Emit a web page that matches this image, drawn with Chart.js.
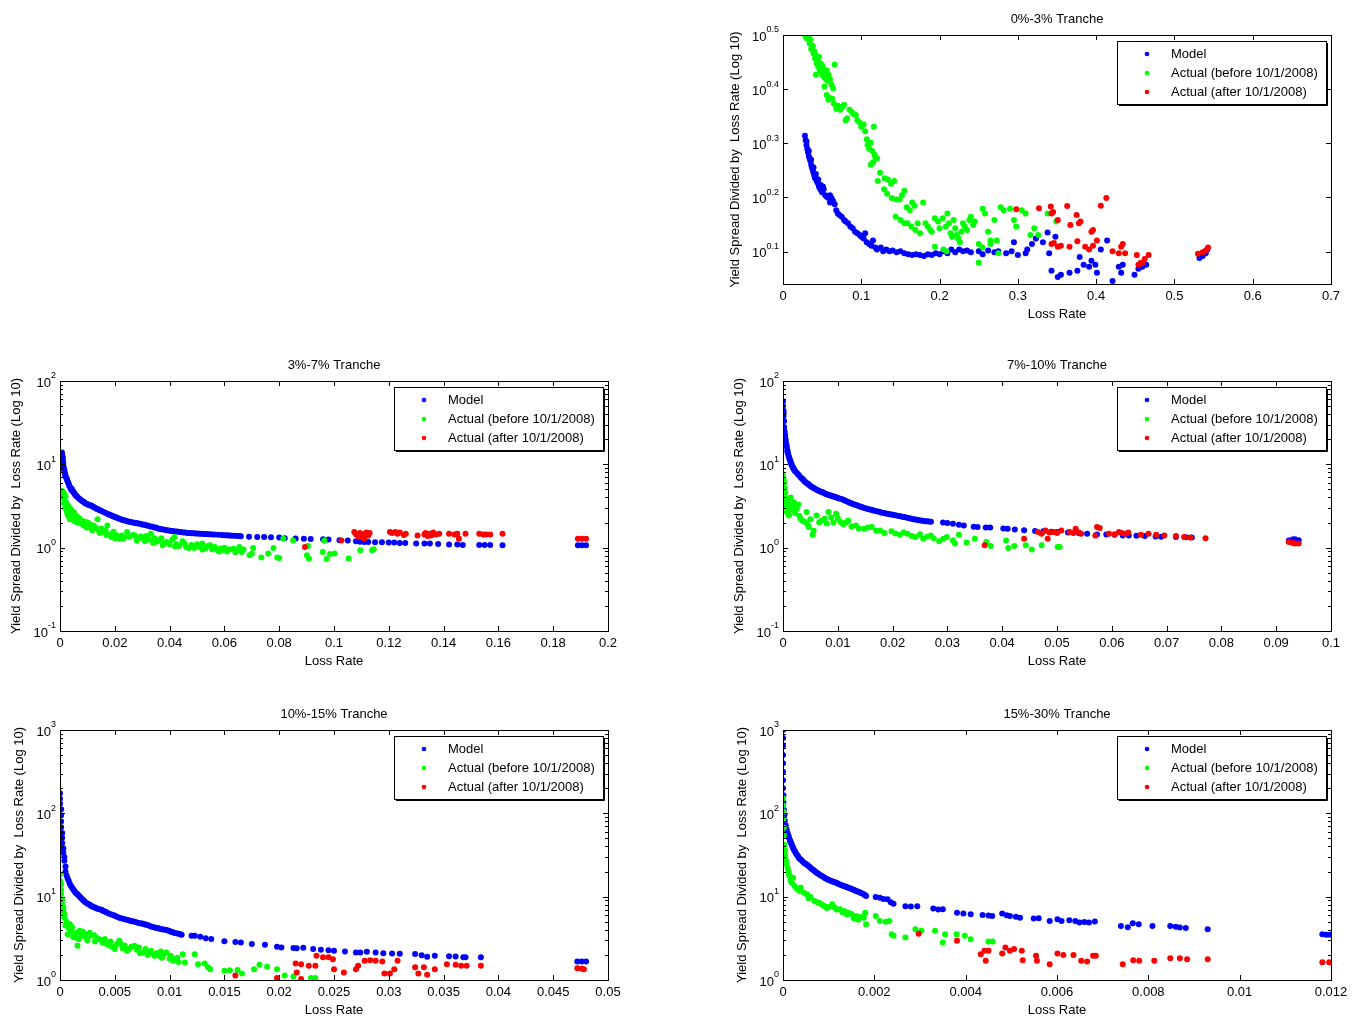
<!DOCTYPE html>
<html>
<head>
<meta charset="utf-8">
<title>Yield spread / loss rate by tranche</title>
<script src="https://cdn.jsdelivr.net/npm/chart.js@4.4.0/dist/chart.umd.min.js"></script>
<style>
  body { margin: 0; background: #fff; width: 1352px; height: 1017px; overflow: hidden; }
  .panel { position: absolute; }
</style>
</head>
<body>
<div class="panel" style="left:723px;top:5px"><canvas id="c03" width="628" height="325"></canvas></div>
<div class="panel" style="left:0px;top:351px"><canvas id="c37" width="628" height="326"></canvas></div>
<div class="panel" style="left:723px;top:351px"><canvas id="c710" width="628" height="326"></canvas></div>
<div class="panel" style="left:0px;top:700px"><canvas id="c1015" width="628" height="326"></canvas></div>
<div class="panel" style="left:723px;top:700px"><canvas id="c1530" width="628" height="326"></canvas></div>

<script>
// Yield spread divided by loss rate vs loss rate, five tranches

const seriesNames = ['Model', 'Actual (before 10/1/2008)', 'Actual (after 10/1/2008)'];
const yLabel = 'Yield Spread Divided by  Loss Rate (Log 10)';
const xLabel = 'Loss Rate';

// ---- 0%-3% tranche ----
const t03YExp = ['0.1', '0.2', '0.3', '0.4', '0.5'];
const t03Model = [
  [0.028,2.06],[0.029,2.02],[0.030,1.98],[0.031,1.95],[0.032,1.92],[0.033,1.89],[0.034,1.87],[0.035,1.85],
  [0.036,1.82],[0.037,1.80],[0.038,1.78],[0.039,1.76],[0.040,1.74],[0.041,1.72],[0.042,1.72],[0.043,1.70],
  [0.044,1.69],[0.045,1.68],[0.046,1.66],[0.047,1.65],[0.048,1.64],[0.049,1.63],[0.050,1.62],[0.052,1.64],
  [0.054,1.60],[0.056,1.59],[0.058,1.58],[0.060,1.60],[0.062,1.58],[0.064,1.56],[0.060,1.55],[0.066,1.54],
  [0.030,2.01],[0.033,1.93],[0.036,1.86],[0.039,1.80],[0.042,1.75],[0.045,1.71],[0.048,1.67],[0.051,1.66],
  [0.068,1.50],[0.070,1.48],[0.072,1.47],[0.075,1.46],[0.078,1.44],[0.080,1.43],[0.083,1.42],[0.086,1.40],
  [0.089,1.39],[0.092,1.37],[0.095,1.36],[0.098,1.35],[0.100,1.34],[0.103,1.33],[0.105,1.36],[0.107,1.31],
  [0.110,1.30],[0.113,1.29],[0.115,1.32],[0.118,1.28],[0.120,1.27],[0.125,1.28],[0.128,1.26],[0.132,1.27],
  [0.136,1.26],[0.140,1.265],[0.145,1.255],[0.150,1.26],[0.155,1.25],[0.160,1.245],[0.165,1.24],[0.170,1.245],
  [0.175,1.24],[0.180,1.235],[0.185,1.245],[0.190,1.24],[0.195,1.25],[0.200,1.245],[0.205,1.26],[0.210,1.25],
  [0.215,1.27],[0.220,1.255],[0.225,1.27],[0.230,1.26],[0.235,1.265],[0.240,1.255],[0.250,1.26],[0.255,1.245],
  [0.262,1.265],[0.270,1.255],[0.275,1.26],[0.285,1.25],[0.292,1.26],[0.295,1.31],[0.300,1.24],[0.310,1.25],
  [0.312,1.27],[0.318,1.30],[0.323,1.33],[0.332,1.31],[0.338,1.365],[0.340,1.25],[0.348,1.34],[0.343,1.16],
  [0.351,1.13],[0.355,1.14],[0.366,1.15],[0.376,1.16],[0.379,1.23],[0.384,1.19],[0.391,1.18],[0.394,1.21],
  [0.399,1.19],[0.401,1.15],[0.406,1.27],[0.414,1.32],[0.421,1.11],[0.429,1.18],[0.432,1.15],[0.434,1.19],
  [0.449,1.14],[0.454,1.17],[0.459,1.18],[0.464,1.19],[0.532,1.225],[0.536,1.235],[0.540,1.25],[0.542,1.27]
];
const t03Before = [
  [0.028,3.16],[0.030,3.12],[0.032,3.15],[0.034,3.05],[0.035,3.10],[0.036,2.98],[0.038,3.02],[0.039,2.92],
  [0.040,2.95],[0.041,2.86],[0.042,2.90],[0.043,2.80],[0.044,2.84],[0.045,2.76],[0.046,2.88],[0.047,2.72],
  [0.048,2.80],[0.049,2.70],[0.050,2.78],[0.051,2.66],[0.052,2.74],[0.053,2.64],[0.054,2.70],[0.055,2.62],
  [0.056,2.72],[0.057,2.60],[0.058,2.67],[0.060,2.62],[0.062,2.56],[0.064,2.52],[0.042,2.67],[0.066,2.79],
  [0.053,2.54],[0.056,2.45],[0.058,2.40],[0.060,2.42],[0.063,2.41],[0.065,2.36],[0.068,2.31],[0.070,2.34],
  [0.073,2.30],[0.076,2.33],[0.078,2.35],[0.080,2.20],[0.082,2.22],[0.085,2.30],[0.088,2.28],[0.090,2.26],
  [0.093,2.25],[0.095,2.20],[0.098,2.18],[0.100,2.14],[0.103,2.16],[0.105,2.10],[0.107,2.03],[0.108,1.98],
  [0.110,1.95],[0.112,2.00],[0.114,1.93],[0.116,2.14],[0.117,1.90],[0.118,1.88],[0.120,1.87],[0.115,1.84],
  [0.112,1.82],[0.121,1.70],[0.124,1.76],[0.130,1.72],[0.134,1.71],[0.138,1.68],[0.142,1.70],[0.129,1.64],
  [0.133,1.61],[0.139,1.58],[0.145,1.57],[0.149,1.57],[0.152,1.60],[0.155,1.63],[0.158,1.52],[0.162,1.50],
  [0.165,1.55],[0.168,1.53],[0.144,1.46],[0.150,1.44],[0.155,1.42],[0.159,1.42],[0.164,1.40],[0.169,1.38],
  [0.172,1.42],[0.175,1.36],[0.179,1.55],[0.182,1.42],[0.185,1.40],[0.188,1.38],[0.190,1.37],[0.194,1.45],
  [0.198,1.43],[0.200,1.39],[0.204,1.45],[0.208,1.40],[0.210,1.48],[0.212,1.42],[0.214,1.36],[0.216,1.34],
  [0.218,1.44],[0.220,1.39],[0.222,1.35],[0.224,1.33],[0.226,1.31],[0.228,1.37],[0.230,1.42],[0.232,1.40],
  [0.235,1.38],[0.238,1.44],[0.240,1.46],[0.243,1.41],[0.245,1.43],[0.250,1.30],[0.255,1.51],[0.258,1.48],
  [0.262,1.37],[0.265,1.32],[0.270,1.44],[0.273,1.32],[0.278,1.52],[0.282,1.50],[0.290,1.51],[0.295,1.44],
  [0.298,1.40],[0.305,1.50],[0.310,1.48],[0.316,1.35],[0.321,1.39],[0.326,1.35],[0.338,1.48],[0.349,1.43],
  [0.194,1.285],[0.209,1.26],[0.205,1.27],[0.250,1.20],[0.255,1.28],[0.275,1.25],[0.265,1.30]
];
const t03After = [
  [0.298,1.507],[0.327,1.514],[0.342,1.524],[0.343,1.48],[0.345,1.49],[0.363,1.528],[0.375,1.47],[0.378,1.42],
  [0.380,1.43],[0.367,1.41],[0.351,1.44],[0.406,1.53],[0.413,1.58],[0.394,1.37],[0.396,1.38],[0.401,1.32],
  [0.391,1.27],[0.386,1.285],[0.396,1.29],[0.346,1.305],[0.351,1.285],[0.355,1.29],[0.343,1.30],[0.366,1.285],
  [0.376,1.315],[0.421,1.26],[0.432,1.285],[0.434,1.30],[0.437,1.25],[0.429,1.25],[0.452,1.24],[0.454,1.19],
  [0.457,1.20],[0.459,1.20],[0.462,1.22],[0.467,1.24],[0.530,1.247],[0.536,1.255],[0.540,1.265],[0.543,1.28]
];

// ---- 3%-7% tranche ----
const t37YExp = ['-1', '0', '1', '2'];
const t37Model = [
  [0.0007,13.9],[0.0009,12.3],[0.0011,10.8],[0.0013,9.5],[0.0014,8.8],[0.0017,7.9],[0.0020,7.2],[0.0025,6.6],
  [0.0029,6.1],[0.0034,5.5],[0.0040,5.0],[0.0045,4.8],[0.0050,4.6],[0.0056,4.3],[0.0062,4.1],[0.0072,3.85],
  [0.0082,3.6],[0.0090,3.45],[0.0098,3.35],[0.0106,3.25],[0.0115,3.2],[0.0125,3.05],[0.0135,2.92],[0.0145,2.82],
  [0.0159,2.67],[0.0175,2.52],[0.0185,2.45],[0.0195,2.37],[0.0205,2.30],[0.0216,2.22],[0.0228,2.15],[0.0240,2.10],
  [0.0252,2.05],[0.0265,2.00],[0.0278,1.97],[0.0290,1.94],[0.0303,1.89],[0.0316,1.85],[0.0330,1.80],[0.0345,1.75],
  [0.0360,1.69],[0.0375,1.65],[0.0390,1.62],[0.0405,1.59],[0.0420,1.56],[0.0435,1.54],[0.0450,1.52],[0.0465,1.50],
  [0.0480,1.49],[0.0495,1.48],[0.0510,1.47],[0.0525,1.46],[0.0540,1.45],[0.0555,1.44],[0.0577,1.43],[0.0600,1.41],
  [0.0615,1.40],[0.0630,1.39],[0.0649,1.38],[0.0660,1.375],[0.0690,1.35],[0.0720,1.34],[0.0745,1.34],[0.0770,1.33],
  [0.0800,1.32],[0.0820,1.30],[0.0860,1.29],[0.0890,1.28],[0.0915,1.27],[0.0960,1.26],[0.0980,1.25],[0.1020,1.23],
  [0.1050,1.22],[0.1080,1.19],[0.1095,1.18],[0.1110,1.17],[0.1125,1.17],[0.1150,1.16],[0.1175,1.16],[0.1200,1.15],
  [0.1220,1.15],[0.1240,1.14],[0.1260,1.14],[0.1300,1.12],[0.1330,1.12],[0.1350,1.12],[0.1380,1.11],[0.1420,1.09],
  [0.1450,1.09],[0.1470,1.08],[0.1530,1.08],[0.1550,1.08],[0.1570,1.08],[0.1615,1.07],[0.1890,1.07],[0.1905,1.07],
  [0.1920,1.07],
  [0.0008,13.0],[0.0010,11.8],[0.0012,10.4],[0.0016,8.5],[0.0019,7.6],[0.0023,6.9],[0.0027,6.4],[0.0032,5.8],
  [0.0037,5.3],[0.0043,5.05],[0.0048,4.75],[0.0053,4.45],[0.0059,4.2],[0.0067,3.95],[0.0077,3.7],[0.0086,3.55],
  [0.0094,3.4],[0.0102,3.3],[0.0110,3.2],[0.0120,3.1],[0.0130,2.98],[0.0140,2.87],[0.0152,2.75],[0.0167,2.6],
  [0.0180,2.5],[0.0190,2.42],[0.0200,2.35],[0.0210,2.27],[0.0222,2.2],[0.0234,2.13],[0.0246,2.08],[0.0258,2.03],
  [0.0272,1.99],[0.0284,1.96],[0.0296,1.92],[0.0310,1.88],[0.0323,1.83],[0.0338,1.78],[0.0352,1.73],[0.0368,1.68],
  [0.0383,1.64],[0.0398,1.61],[0.0412,1.58],[0.0428,1.56],[0.0442,1.54],[0.0458,1.52],[0.0472,1.50],[0.0488,1.49],
  [0.0503,1.48],[0.0518,1.47],[0.0532,1.46],[0.0548,1.45],[0.0563,1.44],[0.0590,1.42],[0.0608,1.41],[0.0622,1.40],
  [0.0640,1.39],[0.0655,1.38]
];
const t37Before = [
  [0.0007,4.8],[0.0009,4.4],[0.0011,4.7],[0.0013,4.2],[0.0014,3.9],[0.0016,4.4],[0.0018,3.6],[0.0020,4.1],
  [0.0022,3.5],[0.0022,2.9],[0.0024,3.3],[0.0026,2.6],[0.0027,3.1],[0.0029,3.2],[0.0030,2.4],[0.0032,2.8],
  [0.0034,3.0],[0.0036,2.2],[0.0038,2.6],[0.0040,2.9],[0.0043,2.5],[0.0046,2.3],[0.0050,2.67],[0.0053,2.1],
  [0.0056,2.4],[0.0058,2.44],[0.0062,2.0],[0.0066,2.3],[0.0072,2.22],[0.0076,1.95],[0.0080,2.1],[0.0087,1.85],
  [0.0092,2.05],[0.0101,2.0],[0.0105,1.8],[0.0110,1.9],[0.0115,1.69],[0.0122,1.85],[0.0130,1.75],[0.0137,2.2],
  [0.0142,1.6],[0.0150,1.7],[0.0159,1.54],[0.0165,1.62],[0.0173,1.85],[0.0180,1.45],[0.0187,1.34],[0.0195,1.55],
  [0.0205,1.42],[0.0216,1.28],[0.0225,1.4],[0.0235,1.33],[0.0245,1.54],[0.0255,1.35],[0.0265,1.42],[0.0274,1.40],
  [0.0285,1.30],[0.0295,1.36],[0.0303,1.28],[0.0315,1.38],[0.0325,1.25],[0.0332,1.47],[0.0345,1.30],[0.0352,1.18],
  [0.0360,1.22],[0.0370,1.30],[0.0380,1.12],[0.0389,1.17],[0.0400,1.10],[0.0410,1.25],[0.0418,1.34],[0.0425,1.10],
  [0.0435,1.05],[0.0447,1.19],[0.0455,1.12],[0.0470,0.99],[0.0480,1.08],[0.0490,0.99],[0.0500,1.10],[0.0510,1.02],
  [0.0519,1.12],[0.0530,0.98],[0.0540,1.05],[0.0548,1.07],[0.0555,0.96],[0.0565,1.02],[0.0575,0.93],[0.0585,0.98],
  [0.0591,0.93],[0.0600,1.00],[0.0610,0.90],[0.0620,0.96],[0.0634,0.97],[0.0645,0.92],[0.0655,1.02],[0.0663,0.89],
  [0.0670,0.95],[0.0692,0.81],[0.0700,0.85],[0.0705,0.99],[0.0735,0.76],[0.0760,0.85],[0.0779,0.99],[0.0793,0.76],
  [0.0800,0.75],[0.0815,1.28],[0.0851,1.22],[0.0901,0.81],[0.0908,0.74],[0.0959,0.89],[0.0973,0.73],[0.0965,1.22],
  [0.1002,0.85],[0.1053,0.74],[0.1096,0.93],[0.1139,0.93],[0.1145,0.96],[0.0905,1.05],[0.0985,0.84],
  [0.0010,4.1],[0.0015,3.4],[0.0019,3.0],[0.0025,2.75],[0.0031,2.55],[0.0041,2.35],[0.0048,2.15],[0.0064,2.15],
  [0.0085,1.95],[0.0097,1.75],[0.0118,1.62],[0.0145,1.5],[0.0170,1.42],[0.0200,1.3],[0.0230,1.28],[0.0280,1.22],
  [0.0310,1.2],[0.0340,1.14],[0.0375,1.07],[0.0420,1.03],[0.0460,1.02],[0.0520,0.95],[0.0580,0.9],[0.0640,0.88]
];
const t37After = [
  [0.0894,1.02],[0.1027,1.22],[0.1074,1.54],[0.1080,1.45],[0.1090,1.34],[0.1095,1.50],[0.1100,1.35],[0.1104,1.45],
  [0.1110,1.28],[0.1118,1.52],[0.1125,1.40],[0.1130,1.50],[0.1204,1.54],[0.1212,1.50],[0.1224,1.54],[0.1232,1.47],
  [0.1240,1.52],[0.1255,1.42],[0.1262,1.47],[0.1305,1.40],[0.1330,1.44],[0.1334,1.50],[0.1342,1.38],[0.1350,1.47],
  [0.1355,1.40],[0.1362,1.52],[0.1372,1.44],[0.1384,1.47],[0.1420,1.47],[0.1440,1.44],[0.1450,1.47],[0.1456,1.28],
  [0.1480,1.47],[0.1530,1.47],[0.1545,1.44],[0.1555,1.44],[0.1570,1.44],[0.1615,1.47],[0.1890,1.28],[0.1905,1.28],
  [0.1920,1.28]
];

// ---- 7%-10% tranche ----
const t710YExp = ['-1', '0', '1', '2'];
const t710Model = [
  [0.0000,57],[0.0000,50],[0.0001,44],[0.0001,38],[0.0002,33],[0.0002,28],[0.0003,25],[0.0004,22],
  [0.0005,19.5],[0.0006,17.5],[0.0007,16.2],[0.0008,14.8],[0.0009,13.6],[0.0010,12.8],[0.0012,11.7],[0.0014,10.6],
  [0.0016,9.8],[0.0018,9.2],[0.0020,8.7],[0.0022,8.3],[0.0025,7.9],[0.0029,7.4],[0.0032,7.0],[0.0036,6.6],
  [0.0040,6.2],[0.0044,5.9],[0.0048,5.65],[0.0052,5.4],[0.0056,5.2],[0.0061,5.0],[0.0066,4.8],[0.0071,4.65],
  [0.0076,4.5],[0.0081,4.35],[0.0086,4.25],[0.0090,4.15],[0.0095,4.05],[0.0100,3.95],[0.0106,3.85],[0.0112,3.7],
  [0.0118,3.55],[0.0124,3.42],[0.0130,3.3],[0.0136,3.2],[0.0142,3.1],[0.0148,3.0],[0.0155,2.92],[0.0162,2.85],
  [0.0169,2.75],[0.0177,2.67],[0.0184,2.6],[0.0191,2.55],[0.0198,2.5],[0.0205,2.45],[0.0212,2.4],[0.0220,2.34],
  [0.0227,2.28],[0.0234,2.22],[0.0241,2.18],[0.0248,2.14],[0.0255,2.1],[0.0263,2.07],[0.0270,2.05],[0.0292,2.0],
  [0.0300,1.98],[0.0310,1.94],[0.0321,1.89],[0.0330,1.85],[0.0348,1.78],[0.0355,1.77],[0.0370,1.74],[0.0378,1.74],
  [0.0402,1.70],[0.0410,1.69],[0.0423,1.65],[0.0440,1.62],[0.0460,1.58],[0.0475,1.57],[0.0490,1.55],[0.0500,1.54],
  [0.0520,1.52],[0.0540,1.49],[0.0555,1.47],[0.0573,1.44],[0.0590,1.44],[0.0605,1.43],[0.0620,1.40],[0.0631,1.40],
  [0.0645,1.39],[0.0660,1.38],[0.0680,1.36],[0.0690,1.35],[0.0717,1.34],[0.0735,1.33],[0.0746,1.32],[0.0923,1.22],
  [0.0930,1.25],[0.0934,1.26],[0.0941,1.23],
  [0.0001,41],[0.0003,23.5],[0.0004,20.5],[0.0006,16.8],[0.0008,14.2],[0.0011,12.2],[0.0013,11.1],[0.0015,10.2],
  [0.0017,9.5],[0.0019,8.9],[0.0021,8.5],[0.0027,7.6],[0.0034,6.8],[0.0038,6.4],[0.0042,6.05],[0.0046,5.8],
  [0.0050,5.5],[0.0054,5.3],[0.0058,5.1],[0.0063,4.9],[0.0068,4.72],[0.0073,4.58],[0.0078,4.42],[0.0083,4.3],
  [0.0088,4.2],[0.0093,4.1],[0.0098,4.0],[0.0103,3.9],[0.0109,3.78],[0.0115,3.62],[0.0121,3.48],[0.0127,3.36],
  [0.0133,3.25],[0.0139,3.15],[0.0145,3.05],[0.0152,2.96],[0.0158,2.88],[0.0165,2.8],[0.0173,2.71],[0.0180,2.63],
  [0.0188,2.57],[0.0195,2.52],[0.0202,2.47],[0.0209,2.42],[0.0216,2.37],[0.0223,2.31],[0.0231,2.25],[0.0238,2.2],
  [0.0245,2.16],[0.0252,2.12],[0.0259,2.08],[0.0266,2.06]
];
const t710Before = [
  [0.0000,7.3],[0.0001,6.6],[0.0002,6.1],[0.0003,5.2],[0.0004,4.6],[0.0004,3.9],[0.0005,3.2],[0.0006,3.6],
  [0.0007,2.67],[0.0008,3.0],[0.0009,3.85],[0.0010,2.5],[0.0011,2.44],[0.0012,3.4],[0.0014,4.0],[0.0016,2.9],
  [0.0018,3.2],[0.0020,3.5],[0.0022,2.6],[0.0025,2.93],[0.0028,3.3],[0.0030,2.4],[0.0032,2.22],[0.0036,2.1],
  [0.0040,2.03],[0.0043,2.67],[0.0045,1.9],[0.0047,1.77],[0.0050,2.2],[0.0054,1.43],[0.0056,1.6],[0.0061,2.44],
  [0.0066,2.0],[0.0070,2.1],[0.0076,2.22],[0.0080,1.95],[0.0083,2.67],[0.0088,2.3],[0.0092,2.0],[0.0097,2.55],
  [0.0100,2.25],[0.0105,2.03],[0.0110,1.9],[0.0115,2.0],[0.0119,2.12],[0.0125,1.8],[0.0133,1.85],[0.0138,1.7],
  [0.0148,1.69],[0.0155,1.75],[0.0162,1.77],[0.0170,1.6],[0.0177,1.61],[0.0185,1.5],[0.0198,1.57],[0.0205,1.48],
  [0.0213,1.43],[0.0220,1.52],[0.0227,1.47],[0.0235,1.38],[0.0242,1.34],[0.0250,1.45],[0.0256,1.28],[0.0263,1.35],
  [0.0270,1.40],[0.0275,1.30],[0.0285,1.19],[0.0292,1.27],[0.0299,1.34],[0.0310,1.22],[0.0314,1.12],[0.0321,1.43],
  [0.0335,1.15],[0.0350,1.28],[0.0371,1.17],[0.0379,1.05],[0.0407,1.22],[0.0411,0.99],[0.0422,1.05],[0.0443,1.07],
  [0.0454,0.95],[0.0472,1.07],[0.0501,1.02],[0.0505,1.02]
];
const t710After = [
  [0.0368,1.07],[0.0440,1.28],[0.0465,1.54],[0.0472,1.47],[0.0479,1.61],[0.0483,1.28],[0.0486,1.52],[0.0494,1.54],
  [0.0500,1.50],[0.0508,1.61],[0.0523,1.54],[0.0530,1.50],[0.0534,1.69],[0.0540,1.52],[0.0544,1.47],[0.0570,1.40],
  [0.0573,1.77],[0.0578,1.72],[0.0595,1.47],[0.0605,1.45],[0.0613,1.54],[0.0618,1.50],[0.0624,1.47],[0.0630,1.52],
  [0.0653,1.43],[0.0667,1.47],[0.0681,1.43],[0.0696,1.40],[0.0717,1.38],[0.0732,1.34],[0.0743,1.32],[0.0771,1.30],
  [0.0923,1.17],[0.0930,1.14],[0.0934,1.12],[0.0941,1.12]
];

// ---- 10%-15% tranche ----
const t1015YExp = ['0', '1', '2', '3'];
const t1015Model = [
  [0.0000,174],[0.0000,150],[0.0000,130],[0.0001,112],[0.0001,95],[0.0001,80],[0.0001,68],[0.0002,58],
  [0.0002,51],[0.0002,44],[0.0003,38],[0.0003,34],[0.0004,30],[0.0004,27],[0.0005,23],[0.0005,20],
  [0.0006,18],[0.0007,16.5],[0.0008,15.4],[0.0009,14.2],[0.0010,13.4],[0.0011,12.8],[0.0013,11.8],[0.0014,11.2],
  [0.0016,10.7],[0.0018,10.0],[0.0020,9.4],[0.0022,8.9],[0.0025,8.3],[0.0027,8.0],[0.0029,7.7],[0.0032,7.4],
  [0.0035,7.1],[0.0038,6.9],[0.0040,6.7],[0.0043,6.4],[0.0047,6.1],[0.0050,5.9],[0.0054,5.6],[0.0058,5.4],
  [0.0062,5.25],[0.0065,5.1],[0.0069,4.95],[0.0073,4.8],[0.0076,4.7],[0.0079,4.6],[0.0083,4.4],[0.0087,4.25],
  [0.0090,4.15],[0.0094,4.05],[0.0098,3.95],[0.0101,3.8],[0.0104,3.7],[0.0108,3.6],[0.0111,3.5],[0.0120,3.4],
  [0.0123,3.39],[0.0128,3.3],[0.0133,3.18],[0.0138,3.1],[0.0150,2.92],[0.0160,2.85],[0.0165,2.82],[0.0175,2.7],
  [0.0187,2.64],[0.0198,2.5],[0.0202,2.46],[0.0213,2.42],[0.0216,2.41],[0.0222,2.44],[0.0231,2.35],[0.0238,2.30],
  [0.0245,2.28],[0.0250,2.25],[0.0260,2.2],[0.0270,2.14],[0.0274,2.14],[0.0280,2.18],[0.0288,2.14],[0.0295,2.1],
  [0.0303,2.08],[0.0310,2.06],[0.0324,2.05],[0.0330,1.98],[0.0335,1.90],[0.0342,1.95],[0.0355,1.93],[0.0361,1.92],
  [0.0368,1.88],[0.0370,1.87],[0.0384,1.87],[0.0472,1.67],[0.0476,1.67],[0.0480,1.67],
  [0.0012,12.3],[0.0015,10.9],[0.0017,10.3],[0.0019,9.7],[0.0021,9.1],[0.0023,8.6],[0.0026,8.1],[0.0028,7.85],
  [0.0030,7.55],[0.0033,7.25],[0.0037,7.0],[0.0039,6.8],[0.0042,6.55],[0.0045,6.25],[0.0049,6.0],[0.0052,5.75],
  [0.0056,5.5],[0.0060,5.32],[0.0064,5.15],[0.0067,5.02],[0.0071,4.88],[0.0075,4.75],[0.0078,4.65],[0.0081,4.5],
  [0.0085,4.33],[0.0089,4.2],[0.0092,4.1],[0.0096,4.0],[0.0100,3.87],[0.0103,3.75],[0.0106,3.65],[0.0110,3.55]
];
const t1015Before = [
  [0.0000,18.5],[0.0000,15.5],[0.0001,14],[0.0001,12],[0.0001,10.7],[0.0002,9.2],[0.0002,8.1],[0.0003,7.4],
  [0.0003,6.7],[0.0004,5.6],[0.0004,6.1],[0.0005,4.5],[0.0006,5.0],[0.0007,3.55],[0.0008,4.2],[0.0009,4.67],
  [0.0010,3.9],[0.0012,3.3],[0.0013,3.24],[0.0015,3.7],[0.0016,2.57],[0.0018,3.89],[0.0020,3.4],[0.0023,3.55],
  [0.0025,3.0],[0.0027,3.7],[0.0029,3.39],[0.0032,2.9],[0.0034,3.2],[0.0036,3.09],[0.0039,2.8],[0.0041,3.1],
  [0.0043,2.69],[0.0046,2.9],[0.0048,2.5],[0.0050,2.35],[0.0052,2.7],[0.0054,2.95],[0.0057,2.4],[0.0059,2.6],
  [0.0061,2.24],[0.0065,2.5],[0.0068,2.57],[0.0070,2.3],[0.0073,2.1],[0.0076,2.14],[0.0078,2.35],[0.0080,2.0],
  [0.0083,2.24],[0.0086,1.95],[0.0088,2.1],[0.0090,1.95],[0.0093,1.85],[0.0095,2.05],[0.0097,2.14],[0.0100,1.8],
  [0.0103,1.7],[0.0105,1.78],[0.0108,1.65],[0.0112,2.04],[0.0114,1.62],[0.0123,2.04],[0.0126,1.55],[0.0132,1.58],
  [0.0135,1.42],[0.0137,1.35],[0.0150,1.29],[0.0155,1.31],[0.0162,1.32],[0.0166,1.2],[0.0177,1.35],[0.0182,1.52],
  [0.0189,1.44],[0.0198,1.35],[0.0205,1.13],[0.0213,1.1],[0.0229,1.06],[0.0233,1.06],
  [0.0011,4.3],[0.0014,3.5],[0.0017,3.1],[0.0021,3.8],[0.0024,3.2],[0.0031,3.45],[0.0038,3.0],[0.0045,2.6],
  [0.0055,2.75],[0.0063,2.35],[0.0072,2.45],[0.0082,2.1],[0.0092,2.2],[0.0101,1.95],[0.0107,1.85]
];
const t1015After = [
  [0.0160,1.13],[0.0198,1.06],[0.0215,1.58],[0.0216,1.23],[0.0220,1.55],[0.0220,1.03],[0.0227,1.48],[0.0233,1.48],
  [0.0234,1.95],[0.0240,1.87],[0.0245,1.87],[0.0249,1.78],[0.0250,1.35],[0.0259,1.23],[0.0270,1.35],[0.0272,1.48],
  [0.0278,1.70],[0.0283,1.73],[0.0288,1.70],[0.0294,1.67],[0.0296,1.20],[0.0301,1.20],[0.0305,1.35],[0.0308,1.70],
  [0.0324,1.42],[0.0327,1.20],[0.0332,1.42],[0.0335,1.16],[0.0342,1.35],[0.0353,1.55],[0.0361,1.52],[0.0366,1.48],
  [0.0371,1.48],[0.0384,1.48],[0.0472,1.38],[0.0476,1.36],[0.0478,1.35]
];

// ---- 15%-30% tranche ----
const t1530YExp = ['0', '1', '2', '3'];
const t1530Model = [
  [0.0000,1000],[0.0000,800],[0.0000,650],[0.0000,500],[0.0000,400],[0.0000,316],[0.0000,250],[0.0000,200],
  [0.00001,165],[0.00001,135],[0.00002,110],[0.00003,95],[0.00004,82],[0.00006,72],[0.00008,64],[0.00010,58],
  [0.00013,51],[0.00016,46],[0.00019,42],[0.00022,38.5],[0.00026,35],[0.00030,32],[0.00035,29],[0.00040,27.5],
  [0.00046,25.5],[0.00052,24.3],[0.00058,22.8],[0.00064,21.3],[0.00069,20.3],[0.00075,19.2],[0.00081,18.2],[0.00087,17.4],
  [0.00091,16.9],[0.00097,16.2],[0.00103,15.6],[0.00110,15.1],[0.00117,14.7],[0.00123,14.1],[0.00130,13.6],[0.00137,13.2],
  [0.00143,12.8],[0.00150,12.4],[0.00156,12.0],[0.00162,11.6],[0.00169,11.2],[0.00176,10.8],[0.00182,10.2],[0.00203,9.9],
  [0.00212,9.7],[0.00220,9.4],[0.00229,9.3],[0.00236,8.6],[0.00242,8.2],[0.00268,7.7],[0.00280,7.6],[0.00294,7.7],
  [0.00329,7.2],[0.00340,7.0],[0.00350,7.06],[0.00381,6.4],[0.00395,6.3],[0.00411,6.15],[0.00437,6.04],[0.00450,5.95],
  [0.00458,5.87],[0.00480,6.27],[0.00490,6.0],[0.00497,5.87],[0.00510,5.75],[0.00519,5.6],[0.00549,5.46],[0.00560,5.5],
  [0.00584,5.12],[0.00601,5.36],[0.00610,5.1],[0.00627,5.21],[0.00640,5.1],[0.00649,4.89],[0.00660,4.95],[0.00670,4.89],
  [0.00683,5.02],[0.00740,4.46],[0.00755,4.3],[0.00766,4.8],[0.00779,4.67],[0.00809,4.46],[0.00848,4.46],[0.00860,4.35],
  [0.00869,4.26],[0.00882,4.2],[0.00930,4.07],[0.01181,3.55],[0.01190,3.5],[0.01198,3.5],
  [0.00012,54],[0.00015,48],[0.00018,44],[0.00021,40],[0.00024,36.5],[0.00028,33.5],[0.00033,30.5],[0.00038,28.2],
  [0.00043,26.5],[0.00049,24.9],[0.00055,23.5],[0.00061,22],[0.00067,20.8],[0.00072,19.7],[0.00078,18.7],[0.00084,17.8],
  [0.00094,16.5],[0.00100,15.9],[0.00107,15.3],[0.00113,14.9],[0.00120,14.4],[0.00127,13.8],[0.00133,13.4],[0.00140,13.0],
  [0.00147,12.6],[0.00153,12.2],[0.00159,11.8],[0.00166,11.4],[0.00172,11.0],[0.00179,10.5]
];
const t1530Before = [
  [0.0000,152],[0.0000,125],[0.00001,105],[0.00001,85],[0.00002,67],[0.00002,55],[0.00003,42],[0.00004,36],
  [0.00004,32],[0.00007,26.8],[0.00010,22.2],[0.00013,18.5],[0.00017,15.4],[0.00022,16.9],[0.00026,13.3],[0.00035,11.8],
  [0.00039,12.8],[0.00052,10.7],[0.00060,10.0],[0.00069,8.9],[0.00080,8.4],[0.00091,7.7],[0.00100,7.5],[0.00108,8.1],
  [0.00117,7.0],[0.00125,7.06],[0.00135,6.7],[0.00143,6.4],[0.00150,6.2],[0.00160,5.87],[0.00170,5.7],[0.00177,5.6],
  [0.00182,4.67],[0.00180,6.4],[0.00203,5.87],[0.00212,5.12],[0.00225,5.0],[0.00233,5.12],[0.00238,3.55],[0.00242,3.39],
  [0.00268,3.24],[0.00290,4.07],[0.00303,3.89],[0.00333,3.89],[0.00350,2.82],[0.00355,3.55],[0.00380,3.55],[0.00398,3.39],
  [0.00411,3.09],[0.00450,2.90],[0.00459,2.90],
  [0.00005,30],[0.00008,24.5],[0.00012,20],[0.00015,17.5],[0.00020,14.5],[0.00030,12.5],[0.00045,11.2],[0.00056,9.6],
  [0.00075,8.6],[0.00086,8.0],[0.00096,7.3],[0.00113,7.4],[0.00130,6.5],[0.00140,6.1],[0.00155,5.5],[0.00165,5.3]
];
const t1530After = [
  [0.00297,3.6],[0.00381,2.95],[0.00433,2.04],[0.00441,2.24],[0.00450,2.24],[0.00444,1.70],[0.00480,2.08],[0.00487,2.46],
  [0.00497,2.24],[0.00506,2.35],[0.00523,2.24],[0.00525,1.73],[0.00554,1.95],[0.00556,1.70],[0.00584,1.55],[0.00601,2.08],
  [0.00614,2.00],[0.00636,2.00],[0.00653,1.70],[0.00666,1.67],[0.00679,1.95],[0.00685,1.95],[0.00744,1.55],[0.00767,1.73],
  [0.00780,1.70],[0.00813,1.70],[0.00848,1.83],[0.00869,1.83],[0.00885,1.78],[0.00930,1.78],[0.01181,1.63],[0.01196,1.63]
];

const COLORS = ['#0000ff', '#00ff00', '#ff0000'];
const FONT = "'Liberation Sans', Arial, Helvetica, sans-serif";

Chart.defaults.font.family = FONT;
Chart.defaults.font.size = 13;
Chart.defaults.color = '#000';

// MATLAB-like box, inward ticks, 10^x tick labels, title and boxed legend
const matlabFrame = {
  id: 'matlabFrame',
  afterDraw(chart, args, opts) {
    const ctx = chart.ctx;
    const a = chart.chartArea;
    const xs = chart.scales.x, ys = chart.scales.y;
    ctx.save();
    ctx.strokeStyle = '#000';
    ctx.lineWidth = 1;

    // x ticks, bottom and top
    ctx.beginPath();
    xs.ticks.forEach(t => {
      const px = Math.round(xs.getPixelForValue(t.value)) + 0.5;
      ctx.moveTo(px, a.bottom); ctx.lineTo(px, a.bottom - 5);
      ctx.moveTo(px, a.top); ctx.lineTo(px, a.top + 5);
    });
    // y major ticks
    opts.exps.forEach(e => {
      const py = Math.round(ys.getPixelForValue(Math.pow(10, parseFloat(e)))) + 0.5;
      ctx.moveTo(a.left, py); ctx.lineTo(a.left + 5, py);
      ctx.moveTo(a.right, py); ctx.lineTo(a.right - 5, py);
    });
    // y minor ticks inside each decade
    if (opts.minor) {
      const d0 = Math.floor(Math.log10(ys.min)), d1 = Math.ceil(Math.log10(ys.max));
      for (let d = d0; d < d1; d++) {
        for (let k = 2; k <= 9; k++) {
          const v = k * Math.pow(10, d);
          if (v <= ys.min || v >= ys.max) continue;
          const py = Math.round(ys.getPixelForValue(v)) + 0.5;
          ctx.moveTo(a.left, py); ctx.lineTo(a.left + 3, py);
          ctx.moveTo(a.right, py); ctx.lineTo(a.right - 3, py);
        }
      }
    }
    ctx.stroke();
    ctx.strokeRect(Math.round(a.left) + 0.5, Math.round(a.top) + 0.5,
                   Math.round(a.right - a.left), Math.round(a.bottom - a.top));

    // title centred over the axes
    ctx.fillStyle = '#000';
    ctx.font = '13px ' + FONT;
    ctx.textAlign = 'center';
    ctx.textBaseline = 'middle';
    ctx.fillText(opts.title, (a.left + a.right) / 2, a.top - 16);

    // y tick labels: 10 with a raised exponent
    opts.exps.forEach(e => {
      const py = ys.getPixelForValue(Math.pow(10, parseFloat(e)));
      ctx.font = '9px ' + FONT;
      const ew = ctx.measureText(e).width;
      const right = a.left - 4;
      ctx.textAlign = 'right';
      ctx.fillText(e, right, py - 5);
      ctx.font = '13px ' + FONT;
      ctx.fillText('10', right - ew, py + 2);
    });

    // legend
    const bw = 209, bh = 63;
    const bx = Math.round(a.right) - 5 - bw, by = Math.round(a.top) + 6;
    ctx.fillStyle = '#fff';
    ctx.fillRect(bx, by, bw, bh);
    ctx.strokeRect(bx + 0.5, by + 0.5, bw, bh);
    ctx.beginPath();
    ctx.moveTo(bx + 2, by + bh + 1.5);
    ctx.lineTo(bx + bw + 1.5, by + bh + 1.5);
    ctx.lineTo(bx + bw + 1.5, by + 2);
    ctx.stroke();
    ctx.font = '13px ' + FONT;
    ctx.textAlign = 'left';
    chart.data.datasets.forEach((ds, i) => {
      const ry = by + 13 + i * 19;
      ctx.fillStyle = ds.backgroundColor;
      ctx.beginPath();
      ctx.arc(bx + 30, ry, 2.3, 0, Math.PI * 2);
      ctx.fill();
      ctx.fillStyle = '#000';
      ctx.fillText(ds.label, bx + 54, ry);
    });
    ctx.restore();
  }
};

function makePanel(id, title, xMax, xStep, yMin, yMax, exps, minor, yTitlePad, model, before, after) {
  const sets = [model, before, after].map((d, i) => ({
    label: seriesNames[i],
    data: d,
    backgroundColor: COLORS[i],
    pointBackgroundColor: COLORS[i],
    pointBorderWidth: 0,
    pointRadius: 3,
    pointHoverRadius: 3,
    clip: 0,
    order: 3 - i
  }));

  new Chart(document.getElementById(id), {
    type: 'scatter',
    data: { datasets: sets },
    options: {
      responsive: false,
      animation: false,
      events: [],
      layout: { padding: { left: 0, right: 20, top: 30, bottom: 0 } },
      plugins: {
        legend: { display: false },
        tooltip: { enabled: false },
        title: { display: false },
        matlabFrame: { exps: exps, minor: minor, title: title }
      },
      scales: {
        x: {
          type: 'linear',
          min: 0,
          max: xMax,
          grid: { display: false, drawTicks: false },
          border: { display: false },
          ticks: {
            stepSize: xStep,
            autoSkip: false,
            maxRotation: 0,
            padding: 5,
            callback: v => String(Math.round(v * 10000) / 10000)
          },
          title: { display: true, text: xLabel, font: { size: 13 }, padding: { top: 0, bottom: 8 } },
          afterFit: s => { s.height = 46; s.paddingLeft = 0; s.paddingRight = 0; }
        },
        y: {
          type: 'logarithmic',
          min: yMin,
          max: yMax,
          grid: { display: false, drawTicks: false },
          border: { display: false },
          ticks: { display: false },
          afterBuildTicks: s => { s.ticks = exps.map(e => ({ value: Math.pow(10, parseFloat(e)) })); },
          title: { display: true, text: yLabel, font: { size: 13 }, padding: { top: yTitlePad, bottom: 0 } },
          afterFit: s => { s.width = 60; s.paddingTop = 0; s.paddingBottom = 0; }
        }
      }
    },
    plugins: [matlabFrame]
  });
}

makePanel('c03', '0%-3% Tranche', 0.7, 0.1, Math.pow(10, 0.04), Math.pow(10, 0.5), t03YExp, false, 5,
          t03Model, t03Before, t03After);
makePanel('c37', '3%-7% Tranche', 0.2, 0.02, 0.1, 100, t37YExp, true, 9,
          t37Model, t37Before, t37After);
makePanel('c710', '7%-10% Tranche', 0.1, 0.01, 0.1, 100, t710YExp, true, 9,
          t710Model, t710Before, t710After);
makePanel('c1015', '10%-15% Tranche', 0.05, 0.005, 1, 1000, t1015YExp, true, 12,
          t1015Model, t1015Before, t1015After);
makePanel('c1530', '15%-30% Tranche', 0.012, 0.002, 1, 1000, t1530YExp, true, 12,
          t1530Model, t1530Before, t1530After);
</script>
</body>
</html>
